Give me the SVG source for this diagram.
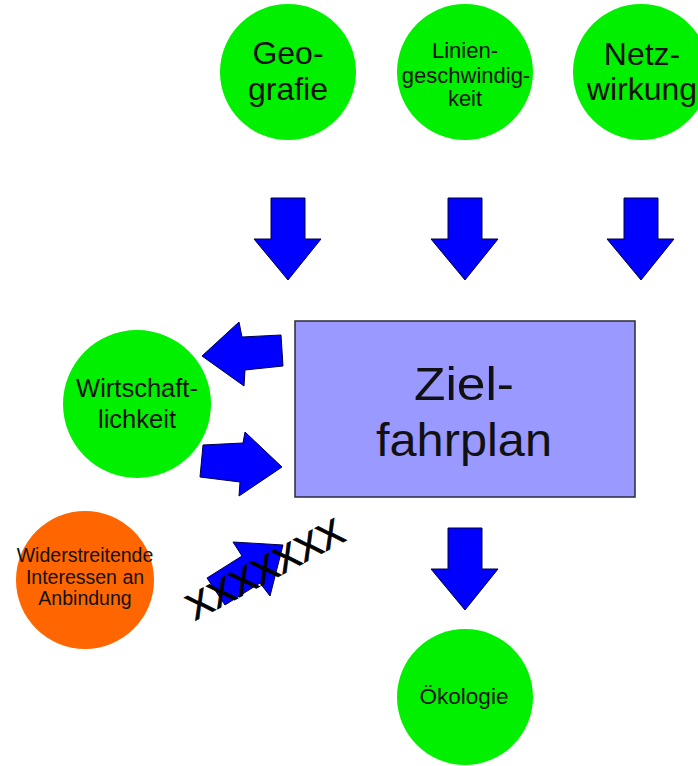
<svg xmlns="http://www.w3.org/2000/svg" xmlns:xlink="http://www.w3.org/1999/xlink" width="698" height="766" viewBox="0 0 698 766">
<style>
.green{fill:#00f000;stroke:none}
.orange{fill:#ff6600;stroke:none}
.box{fill:#9999ff;stroke:#2a2a3a;stroke-width:1.5}
.arrow{fill:#0000ff;stroke:#000044;stroke-width:1;stroke-linejoin:miter}
text{font-family:"Liberation Sans",Arial,sans-serif;fill:#111;text-anchor:middle}
.xs{font-size:37px;fill:#000;stroke:#000;stroke-width:0.8}
</style>
<defs>
<polygon id="down" class="arrow" points="-17,0 17,0 17,41 33,41 0,82 -34,41 -17,41"/>
</defs>
<rect width="698" height="766" fill="#fff"/>
<g id="connectors">
<use xlink:href="#down" href="#down" transform="translate(288,198)"/>
<use xlink:href="#down" href="#down" transform="translate(465,198)"/>
<use xlink:href="#down" href="#down" transform="translate(641,198)"/>
<use xlink:href="#down" href="#down" transform="translate(465,528)"/>
<polygon class="arrow" points="202,356 239,322 242,337 281,335 283,366 245,370 244,386"/>
<polygon class="arrow" points="203,445 243,443 245,432 282,467 239,496 240,482 200,477"/>
<polygon class="arrow" points="207,578 242,556 233,542 283,545 270,596 260,583 225,605"/>
<text class="xs" transform="translate(265,569) rotate(-28)" x="0" y="13">XXXXXXX</text>
</g>
<g id="geografie">
<circle class="green" cx="288" cy="72" r="68"/>
<text font-size="32" x="288" y="64">Geo-</text>
<text font-size="32" x="288" y="100">grafie</text>
</g>
<g id="liniengeschwindigkeit">
<circle class="green" cx="465" cy="72" r="68"/>
<text font-size="22" x="465" y="58">Linien-</text>
<text font-size="22" x="466" y="83">geschwindig-</text>
<text font-size="22" x="465" y="106">keit</text>
</g>
<g id="netzwirkung">
<circle class="green" cx="641" cy="72" r="68"/>
<text font-size="32" x="642" y="65">Netz-</text>
<text font-size="32" x="642" y="100">wirkung</text>
</g>
<g id="zielfahrplan">
<rect class="box" x="295" y="321" width="340" height="176"/>
<text font-size="46" x="464" y="400" textLength="100" lengthAdjust="spacingAndGlyphs">Ziel-</text>
<text font-size="46" x="464" y="456" textLength="176" lengthAdjust="spacingAndGlyphs">fahrplan</text>
</g>
<g id="wirtschaftlichkeit">
<circle class="green" cx="137" cy="404" r="74"/>
<text font-size="25.5" x="137" y="397">Wirtschaft-</text>
<text font-size="25.5" x="137" y="428">lichkeit</text>
</g>
<g id="widerstreitende">
<circle class="orange" cx="85" cy="580" r="69"/>
<text font-size="19.5" x="85" y="562">Widerstreitende</text>
<text font-size="19.5" x="85" y="584">Interessen an</text>
<text font-size="19.5" x="85" y="605">Anbindung</text>
</g>
<g id="oekologie">
<circle class="green" cx="465" cy="697" r="68"/>
<text font-size="22.5" x="464" y="704">Ökologie</text>
</g>
</svg>
